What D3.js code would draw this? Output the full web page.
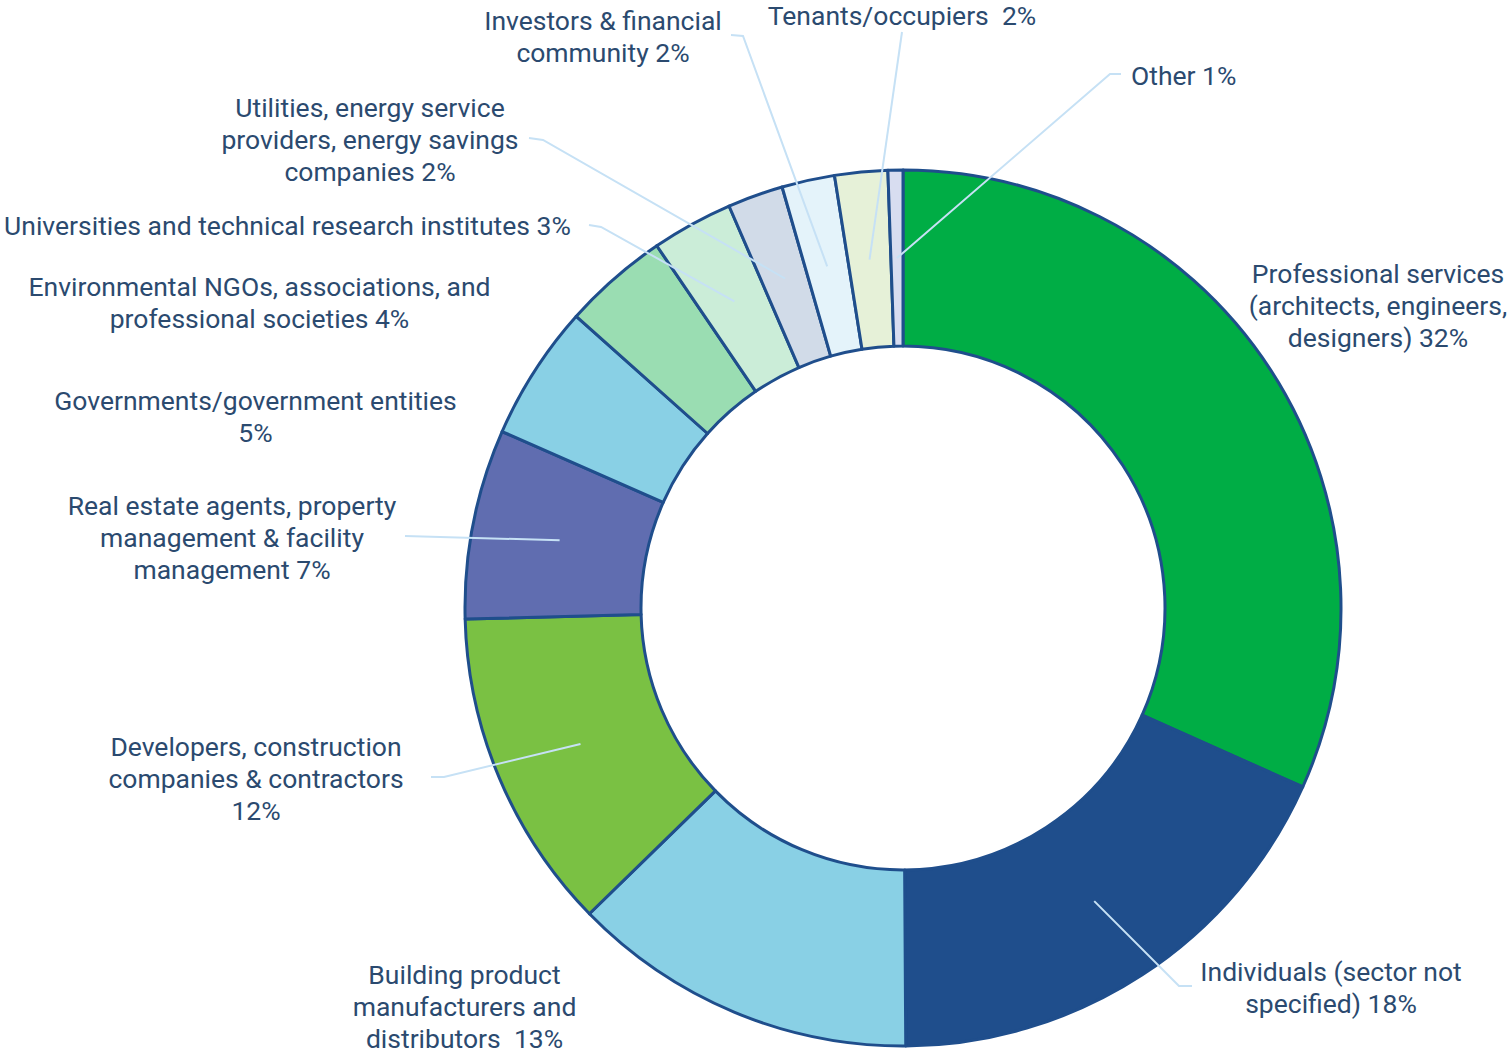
<!DOCTYPE html>
<html>
<head>
<meta charset="utf-8">
<script src="https://cdn.jsdelivr.net/npm/d3@7"></script>
<style>
  html, body { margin: 0; padding: 0; background: #fff; }
  svg { display: block; }
  text { font-family: Roboto, "Noto Sans", sans-serif; white-space: pre; }
</style>
</head>
<body>
<svg id="chart" width="1512" height="1053"></svg>
<script>
// ---- data ----
const categories = [
  "Professional services (architects, engineers, designers)",
  "Individuals (sector not specified)",
  "Building product manufacturers and distributors",
  "Developers, construction companies & contractors",
  "Real estate agents, property management & facility management",
  "Governments/government entities",
  "Environmental NGOs, associations, and professional societies",
  "Universities and technical research institutes",
  "Utilities, energy service providers, energy savings companies",
  "Investors & financial community",
  "Tenants/occupiers",
  "Other"
];
const values = [31.7, 18.2, 12.8, 11.9, 7.0, 5.0, 3.9, 3.0, 2.05, 1.95, 1.95, 0.55];
const percentLabels = ["32%", "18%", "13%", "12%", "7%", "5%", "4%", "3%", "2%", "2%", "2%", "1%"];
const labelLines = [
  ["Professional services", "(architects, engineers,", "designers) 32%"],
  ["Individuals (sector not", "specified) 18%"],
  ["Building product", "manufacturers and", "distributors  13%"],
  ["Developers, construction", "companies & contractors", "12%"],
  ["Real estate agents, property", "management & facility", "management 7%"],
  ["Governments/government entities", "5%"],
  ["Environmental NGOs, associations, and", "professional societies 4%"],
  ["Universities and technical research institutes 3%"],
  ["Utilities, energy service", "providers, energy savings", "companies 2%"],
  ["Investors & financial", "community 2%"],
  ["Tenants/occupiers  2%"],
  ["Other 1%"]
];
const colors = ["#00AD45", "#1F4E8C", "#89D0E5", "#7AC143", "#606DB0", "#89D0E5",
                "#9ADDB2", "#CBEDD8", "#D1DBE8", "#E4F3FA", "#E6F1D8", "#D8DDF0"];

// ---- layout (positions of label text and leader elbows) ----
const labelLayout = [
  { x: 1378, y: 274, anchor: "middle", leader: null },
  { x: 1331, y: 972, anchor: "middle", leader: [[1192, 986], [1179, 986]] },
  { x: 464.5, y: 975, anchor: "middle", leader: null },
  { x: 256, y: 747, anchor: "middle", leader: [[431, 777], [444, 777]] },
  { x: 232, y: 506, anchor: "middle", leader: [[405, 536]] },
  { x: 255.5, y: 401, anchor: "middle", leader: null },
  { x: 259.5, y: 287, anchor: "middle", leader: null },
  { x: 287.5, y: 226, anchor: "middle", leader: [[589, 225], [601, 227]] },
  { x: 370, y: 108, anchor: "middle", leader: [[529, 138], [543, 140]] },
  { x: 603, y: 21, anchor: "middle", leader: [[731, 35], [743, 36]] },
  { x: 902, y: 16, anchor: "middle", leader: [[902, 32]] },
  { x: 1131, y: 76, anchor: "start", leader: [[1121, 74], [1110, 74]] }
];

const cx = 903, cy = 608, outerR = 438, innerR = 262;
const lineH = 32;

const svg = d3.select("#chart");
const g = svg.append("g").attr("transform", `translate(${cx},${cy})`);

const pie = d3.pie().sort(null).value(d => d)(values);
const arc = d3.arc().innerRadius(innerR).outerRadius(outerR);

g.selectAll("path.slice")
  .data(pie)
  .join("path")
  .attr("class", "slice")
  .attr("d", arc)
  .attr("fill", (d, i) => colors[i])
  .attr("stroke", "#1F4E8C")
  .attr("stroke-width", 3)
  .attr("stroke-linejoin", "round");

// leaders
const lineGen = d3.line();
pie.forEach((d, i) => {
  const L = labelLayout[i];
  if (!L.leader) return;
  const c = arc.centroid(d);
  const pts = L.leader.map(p => [p[0], p[1]]).concat([[c[0] + cx, c[1] + cy]]);
  svg.append("path")
    .attr("d", lineGen(pts))
    .attr("fill", "none")
    .attr("stroke", "#C6E1F5")
    .attr("stroke-width", 2);
});

// labels
labelLines.forEach((lines, i) => {
  const L = labelLayout[i];
  const t = svg.append("text")
    .attr("text-anchor", L.anchor)
    .attr("font-size", 26.5)
    .attr("fill", "#2B4A6F");
  lines.forEach((ln, k) => {
    t.append("tspan")
      .attr("x", L.x)
      .attr("y", L.y + k * lineH)
      .attr("dy", "0.35em")
      .text(ln);
  });
});
</script>
</body>
</html>
